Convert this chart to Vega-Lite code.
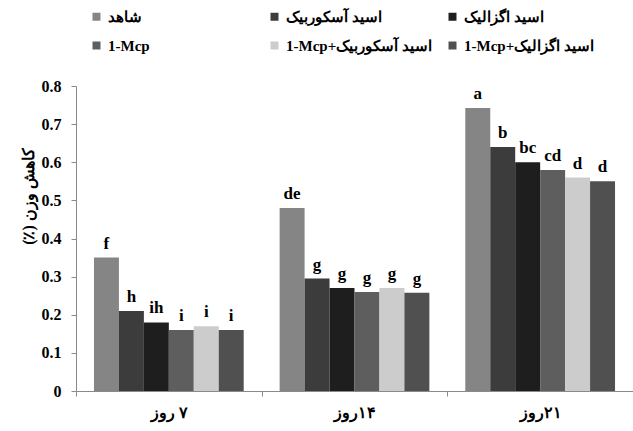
{
  "$schema": "https://vega.github.io/schema/vega-lite/v6.json",
  "width": 557,
  "height": 305,
  "autosize": {"type": "none"},
  "padding": {"left": 76, "top": 86, "right": 0, "bottom": 40},
  "background": "white",
  "config": {
    "font": "Liberation Serif, Times New Roman, serif",
    "view": {"stroke": null},
    "axis": {
      "domainColor": "#8a8a8a",
      "tickColor": "#8a8a8a",
      "tickSize": 5,
      "grid": false,
      "labelFont": "Liberation Serif, Times New Roman, serif",
      "labelFontWeight": "bold",
      "labelFontSize": 16,
      "labelColor": "black",
      "titleFont": "Liberation Serif, Times New Roman, serif",
      "titleFontWeight": "bold",
      "titleFontSize": 16,
      "titleColor": "black"
    },
    "legend": {
      "labelFont": "Liberation Serif, Times New Roman, serif",
      "labelFontWeight": "bold",
      "labelFontSize": 15,
      "labelColor": "black",
      "symbolType": "square",
      "symbolSize": 64,
      "symbolStrokeWidth": 0
    }
  },
  "data": {
    "values": [
      {"day": "\u202B۷ روز\u202C", "treatment": "شاهد", "value": 0.35, "letter": "f"},
      {"day": "\u202B۷ روز\u202C", "treatment": "اسید آسکوربیک", "value": 0.21, "letter": "h"},
      {"day": "\u202B۷ روز\u202C", "treatment": "اسید اگزالیک", "value": 0.18, "letter": "ih"},
      {"day": "\u202B۷ روز\u202C", "treatment": "1-Mcp", "value": 0.16, "letter": "i"},
      {"day": "\u202B۷ روز\u202C", "treatment": "\u202Bاسید آسکوربیک+\u200E1-Mcp\u202C", "value": 0.17, "letter": "i"},
      {"day": "\u202B۷ روز\u202C", "treatment": "\u202Bاسید اگزالیک+\u200E1-Mcp\u202C", "value": 0.16, "letter": "i"},
      {"day": "\u202B۱۴روز\u202C", "treatment": "شاهد", "value": 0.48, "letter": "de"},
      {"day": "\u202B۱۴روز\u202C", "treatment": "اسید آسکوربیک", "value": 0.295, "letter": "g"},
      {"day": "\u202B۱۴روز\u202C", "treatment": "اسید اگزالیک", "value": 0.27, "letter": "g"},
      {"day": "\u202B۱۴روز\u202C", "treatment": "1-Mcp", "value": 0.26, "letter": "g"},
      {"day": "\u202B۱۴روز\u202C", "treatment": "\u202Bاسید آسکوربیک+\u200E1-Mcp\u202C", "value": 0.27, "letter": "g"},
      {"day": "\u202B۱۴روز\u202C", "treatment": "\u202Bاسید اگزالیک+\u200E1-Mcp\u202C", "value": 0.258, "letter": "g"},
      {"day": "\u202B۲۱روز\u202C", "treatment": "شاهد", "value": 0.742, "letter": "a"},
      {"day": "\u202B۲۱روز\u202C", "treatment": "اسید آسکوربیک", "value": 0.64, "letter": "b"},
      {"day": "\u202B۲۱روز\u202C", "treatment": "اسید اگزالیک", "value": 0.6, "letter": "bc"},
      {"day": "\u202B۲۱روز\u202C", "treatment": "1-Mcp", "value": 0.58, "letter": "cd"},
      {"day": "\u202B۲۱روز\u202C", "treatment": "\u202Bاسید آسکوربیک+\u200E1-Mcp\u202C", "value": 0.56, "letter": "d"},
      {"day": "\u202B۲۱روز\u202C", "treatment": "\u202Bاسید اگزالیک+\u200E1-Mcp\u202C", "value": 0.55, "letter": "d"}
    ]
  },
  "encoding": {
    "x": {
      "field": "day",
      "type": "nominal",
      "sort": ["\u202B۷ روز\u202C", "\u202B۱۴روز\u202C", "\u202B۲۱روز\u202C"],
      "scale": {"paddingInner": 0, "paddingOuter": 0},
      "axis": {"title": null, "labelAngle": 0, "tickBand": "extent", "labelPadding": 8}
    },
    "xOffset": {
      "field": "treatment",
      "type": "nominal",
      "sort": ["شاهد", "اسید آسکوربیک", "اسید اگزالیک", "1-Mcp", "\u202Bاسید آسکوربیک+\u200E1-Mcp\u202C", "\u202Bاسید اگزالیک+\u200E1-Mcp\u202C"],
      "scale": {"paddingInner": 0, "paddingOuter": 0.72}
    },
    "y": {
      "field": "value",
      "type": "quantitative",
      "scale": {"domain": [0, 0.8], "nice": false},
      "axis": {
        "title": "\u202Bکاهش وزن (٪)\u202C",
        "values": [0, 0.1, 0.2, 0.3, 0.4, 0.5, 0.6, 0.7, 0.8],
        "labelExpr": "datum.value == 0 ? '0' : format(datum.value, '.1f')",
        "labelPadding": 10,
        "titlePadding": 5,
        "titleY": 110
      }
    }
  },
  "layer": [
    {
      "mark": {"type": "bar"},
      "encoding": {
        "color": {
          "field": "treatment",
          "type": "nominal",
          "sort": ["شاهد", "اسید آسکوربیک", "اسید اگزالیک", "1-Mcp", "\u202Bاسید آسکوربیک+\u200E1-Mcp\u202C", "\u202Bاسید اگزالیک+\u200E1-Mcp\u202C"],
          "scale": {
            "domain": ["شاهد", "اسید آسکوربیک", "اسید اگزالیک", "1-Mcp", "\u202Bاسید آسکوربیک+\u200E1-Mcp\u202C", "\u202Bاسید اگزالیک+\u200E1-Mcp\u202C"],
            "range": ["#858585", "#3c3c3c", "#1e1e1e", "#5e5e5e", "#cccccc", "#505050"]
          },
          "legend": {
            "title": null,
            "orient": "top",
            "direction": "horizontal",
            "columns": 3,
            "gridAlign": "all",
            "columnPadding": 13,
            "rowPadding": 13,
            "offset": 19,
            "padding": 13
          }
        }
      }
    },
    {
      "mark": {"type": "text", "baseline": "bottom", "dy": -5, "fontWeight": "bold", "fontSize": 17, "font": "Liberation Serif, Times New Roman, serif", "color": "black"},
      "encoding": {"text": {"field": "letter"}}
    }
  ]
}
